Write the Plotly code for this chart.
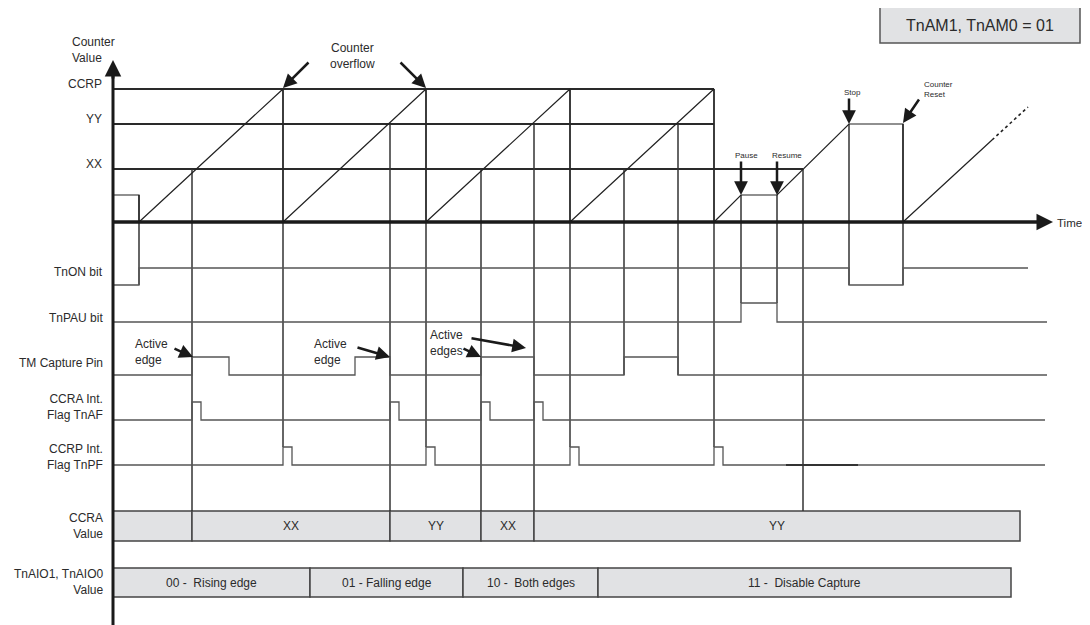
import plotly.graph_objects as go

# ---- data (horizontal units = diagram time, counter units above the zero line)
counter_t = [113, 139, 139, 283, 283, 426, 426, 570, 570, 714, 714, 741, 777, 849, 903, 903, 992]
counter_v = [27, 27, 0, 133, 0, 133, 0, 133, 0, 133, 0, 27, 27, 98, 98, 0, 82]
counter_tail_t = [992, 1028]
counter_tail_v = [82, 115]

level_names = ["CCRP", "YY", "XX"]
level_v = [133, 98, 53]
level_end = [714, 714, 803]

tnon_t = [113, 139, 849, 903, 1028]
tnon_v = [0, 1, 0, 1]
tnpau_t = [113, 741, 777, 1047]
tnpau_v = [0, 1, 0]
cap_t = [113, 192, 229, 355, 390, 481, 534, 624, 678, 1047]
cap_v = [0, 1, 0, 1, 0, 1, 0, 1, 0]
tnaf_pulse_t = [192, 390, 481, 534]
tnaf_end = 1045
tnpf_pulse_t = [283, 426, 570, 714]
tnpf_end = 1045
pulse_w = 9

capture_t = [192, 390, 481, 534, 803]
capture_lvl = ["XX", "YY", "XX", "YY", "XX"]
overflow_t = [283, 426, 570, 714]
nocap_t = [624, 678]
nocap_lvl = ["XX", "YY"]
pause_t = [741, 777]
pause_v = 27
stop_t = [849, 903]

ccra_edges = [113, 192, 390, 481, 534, 1020]
ccra_text = ["", "XX", "YY", "XX", "YY"]
aio_edges = [113, 310, 463, 598, 1011]
aio_text = ["00 -  Rising edge", "01 - Falling edge", "10 -  Both edges", "11 -  Disable Capture"]

# ---- layout of the rows (screen positions)
ZERO = 222
ROWS = {  # base (low level), amplitude
    "TnON": (285, 17),
    "TnPAU": (322, 19),
    "CAP": (375, 18),
    "TnAF": (420, 18),
    "TnPF": (465, 18),
}
CCRA_BAR = (511, 541)
AIO_BAR = (568, 597)
T0 = 113
PAGE_PAD = 8  # browser body margin

FONT = "Liberation Sans, Arial, sans-serif"
TXT = "#2b2b2b"
SIG = "#555555"
DARK = "#2a2a2a"
FILL = "#e1e2e4"

lv = dict(zip(level_names, level_v))


def cy(v):
    return ZERO - v


def step(ts, vs, row):
    base, amp = ROWS[row]
    xs, ys = [], []
    for i, v in enumerate(vs):
        xs += [ts[i], ts[i + 1]]
        ys += [base - amp * v, base - amp * v]
    return xs, ys


def pulses(ts, end, row):
    base, amp = ROWS[row]
    xs, ys = [T0], [base]
    for t in ts:
        xs += [t, t, t + pulse_w, t + pulse_w]
        ys += [base, base - amp, base - amp, base]
    xs.append(end)
    ys.append(base)
    return xs, ys


fig = go.Figure()


def line(xs, ys, color=SIG, width=1.3, dash="solid"):
    fig.add_trace(go.Scatter(x=xs, y=ys, mode="lines", line=dict(color=color, width=width, dash=dash),
                             hoverinfo="skip", showlegend=False))


# reference levels
for name, v, end in zip(level_names, level_v, level_end):
    line([T0, end], [cy(v), cy(v)], color=DARK, width=2)

# vertical guides
gx, gy = [], []
for t, l in zip(capture_t, capture_lvl):
    gx += [t, t, None]
    gy += [cy(lv[l]), CCRA_BAR[0], None]
for t in overflow_t:
    gx += [t, t, None]
    gy += [cy(lv["CCRP"]), ROWS["TnPF"][0] - ROWS["TnPF"][1], None]
for t, l in zip(nocap_t, nocap_lvl):
    gx += [t, t, None]
    gy += [cy(lv[l]), ROWS["CAP"][0], None]
for t in pause_t:
    gx += [t, t, None]
    gy += [cy(pause_v), ROWS["TnPAU"][0] - ROWS["TnPAU"][1], None]
for t in stop_t:
    gx += [t, t, None]
    gy += [cy(lv["YY"]), ROWS["TnON"][0], None]
gx += [counter_t[1], counter_t[1]]
gy += [cy(counter_v[1]), ROWS["TnON"][0]]
line(gx, gy, color="#333333", width=1.5)

# counter
line(counter_t, [cy(v) for v in counter_v], color="#222222", width=1.2)
line(counter_tail_t, [cy(v) for v in counter_tail_v], color="#222222", width=1.6, dash="dot")

# signals
for xs, ys in [step(tnon_t, tnon_v, "TnON"), step(tnpau_t, tnpau_v, "TnPAU"),
               step(cap_t, cap_v, "CAP"), pulses(tnaf_pulse_t, tnaf_end, "TnAF"),
               pulses(tnpf_pulse_t, tnpf_end, "TnPF")]:
    line(xs, ys)
line([786, 858], [ROWS["TnPF"][0]] * 2, color="#333333", width=1.8)

# axes
line([T0, T0], [633, 72], color="#1a1a1a", width=3)
line([T0, 1046], [ZERO, ZERO], color="#1a1a1a", width=3.5)

shapes = []
ann = []


def bar(edges, texts, y0, y1):
    for i, tx in enumerate(texts):
        shapes.append(dict(type="rect", xref="x", yref="y", x0=edges[i], x1=edges[i + 1], y0=y0, y1=y1,
                           fillcolor=FILL, line=dict(color="#444444", width=1.5), layer="below"))
        if tx:
            ann.append(dict(x=(edges[i] + edges[i + 1]) / 2, y=(y0 + y1) / 2, text=tx, showarrow=False,
                            font=dict(size=12, color=TXT)))


bar(ccra_edges, ccra_text, *CCRA_BAR)
bar(aio_edges, aio_text, *AIO_BAR)

# mode box (the last few px on the right are not visible, so keep it just inside)
shapes.append(dict(type="rect", xref="x", yref="y", x0=880, x1=1080, y0=7, y1=43,
                   fillcolor=FILL, line=dict(color="#555555", width=1.5)))
ann.append(dict(x=980, y=25, text="TnAM1, TnAM0 = 01", showarrow=False, font=dict(size=16, color=TXT)))


def label(x, y, text, anchor="right", size=12):
    ann.append(dict(x=x, y=y, text=text, showarrow=False, xanchor=anchor, yanchor="middle",
                    align=anchor, font=dict(size=size, color=TXT)))


label(70, 50, "Counter<br>Value", "left")
for name, v in zip(level_names, level_v):
    label(104, cy(v) - 5, name)
label(105, 272, "TnON bit")
label(105, 318, "TnPAU bit")
label(105, 363, "TM Capture Pin")
label(105, 407, "CCRA Int.<br>Flag TnAF")
label(105, 457, "CCRP Int.<br>Flag TnPF")
label(105, 526, "CCRA<br>Value")
label(105, 582, "TnAIO1, TnAIO0<br>Value")
label(1055, 223, "Time", "left", 11.5)
label(352, 56, "Counter<br>overflow", "center")
label(133, 352, "Active<br>edge", "left")
label(312, 352, "Active<br>edge", "left")
label(428, 343, "Active<br>edges", "left")
label(746, 155, "Pause", "center", 8)
label(787, 155, "Resume", "center", 8)
label(852, 92, "Stop", "center", 8)
label(922, 89, "Counter<br>Reset", "left", 8)


def arrow(x, y, ax, ay, w=2.5, size=1.1):
    ann.append(dict(x=x, y=y, ax=ax, ay=ay, xref="x", yref="y", axref="x", ayref="y", text="",
                    showarrow=True, arrowhead=2, arrowsize=size, arrowwidth=w, arrowcolor="#1a1a1a",
                    standoff=0))


arrow(T0, 60, T0, 80, 3, 1.1)
arrow(1053, ZERO, 1038, ZERO, 3, 1.1)
arrow(283, 88, 310, 61)
arrow(426, 88, 399, 61)
arrow(193, 357, 173, 348)
arrow(390, 357, 356, 347)
arrow(526, 348, 470, 338)
arrow(481, 357, 462, 348)
arrow(741, 195, 741, 160)
arrow(777, 195, 777, 160)
arrow(849, 124, 849, 97)
arrow(903, 123, 920, 98)

# the page body has an 8px margin, so shift the ranges to keep marks on their spots
fig.update_layout(
    width=1090, height=625,
    margin=dict(l=0, r=0, t=0, b=0),
    paper_bgcolor="white", plot_bgcolor="white",
    font=dict(family=FONT, color=TXT),
    xaxis=dict(range=[PAGE_PAD, 1090 + PAGE_PAD], visible=False, fixedrange=True),
    yaxis=dict(range=[625 + PAGE_PAD, PAGE_PAD], visible=False, fixedrange=True),
    shapes=shapes, annotations=ann,
)
fig.write_html("out.html")
